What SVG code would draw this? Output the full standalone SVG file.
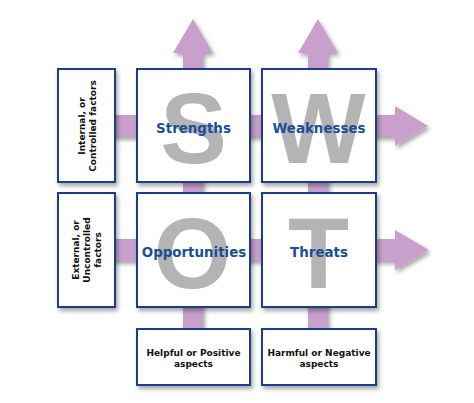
<svg xmlns="http://www.w3.org/2000/svg" width="474" height="403" viewBox="0 0 474 403">
  <defs>
    <filter id="sh" x="-20%" y="-20%" width="140%" height="140%">
      <feDropShadow dx="2" dy="3" stdDeviation="2" flood-color="#000" flood-opacity="0.35"/>
    </filter>
  </defs>
  <style>
    .arrow { fill: #c8a0cb; filter: url(#sh); }
    .box { fill: #ffffff; stroke: #1d3d8a; stroke-width: 2; filter: url(#sh); }
    .big { font-family: "Liberation Sans", Arial, sans-serif; font-weight: bold; font-size: 100px; fill: #b4b4b4; text-anchor: middle; }
    .lbl { font-family: "DejaVu Sans", Verdana, sans-serif; font-weight: bold; font-size: 13.4px; fill: #1a4e96; text-anchor: middle; }
    .side { font-family: "DejaVu Sans", Verdana, sans-serif; font-weight: bold; font-size: 9px; fill: #111111; text-anchor: middle; }
  </style>
  <rect width="474" height="403" fill="#ffffff"/>
  <g id="connectors">
    <polygon class="arrow" points="100,115 395,115 395,106 428,126 395,146 395,137 100,137"/>
    <polygon class="arrow" points="100,239 395,239 395,230 429,250 395,270 395,261 100,261"/>
    <polygon class="arrow" points="183,345 183,53 173,53 193,19 213,53 203,53 203,345"/>
    <polygon class="arrow" points="308,345 308,53 298,53 318,19 338,53 328,53 328,345"/>
  </g>
  <g id="internal">
    <rect class="box" x="58" y="69" width="57" height="113"/>
    <text class="side" transform="translate(85,126) rotate(-90)"><tspan x="0" y="0">Internal, or</tspan><tspan x="0" y="11">Controlled factors</tspan></text>
  </g>
  <g id="external">
    <rect class="box" x="58" y="193" width="57" height="114"/>
    <text class="side" transform="translate(79,250) rotate(-90)"><tspan x="0" y="0">External, or</tspan><tspan x="0" y="11">Uncontrolled</tspan><tspan x="0" y="22">factors</tspan></text>
  </g>
  <g id="strengths">
    <rect class="box" x="137" y="69" width="113" height="113"/>
    <text class="big" x="193.5" y="163">S</text>
    <text class="lbl" x="193.5" y="133">Strengths</text>
  </g>
  <g id="weaknesses">
    <rect class="box" x="262" y="69" width="114" height="113"/>
    <text class="big" x="318.5" y="163">W</text>
    <text class="lbl" x="319" y="133">Weaknesses</text>
  </g>
  <g id="opportunities">
    <rect class="box" x="137" y="193" width="113" height="114"/>
    <text class="big" x="192.5" y="288">O</text>
    <text class="lbl" x="194" y="257">Opportunities</text>
  </g>
  <g id="threats">
    <rect class="box" x="262" y="193" width="114" height="114"/>
    <text class="big" x="318.5" y="288">T</text>
    <text class="lbl" x="319" y="257">Threats</text>
  </g>
  <g id="helpful">
    <rect class="box" x="137" y="329" width="113" height="56"/>
    <text class="side" x="193.5" y="356">Helpful or Positive</text>
    <text class="side" x="193.5" y="367">aspects</text>
  </g>
  <g id="harmful">
    <rect class="box" x="262" y="329" width="114" height="56"/>
    <text class="side" x="319" y="356">Harmful or Negative</text>
    <text class="side" x="319" y="367">aspects</text>
  </g>
</svg>
